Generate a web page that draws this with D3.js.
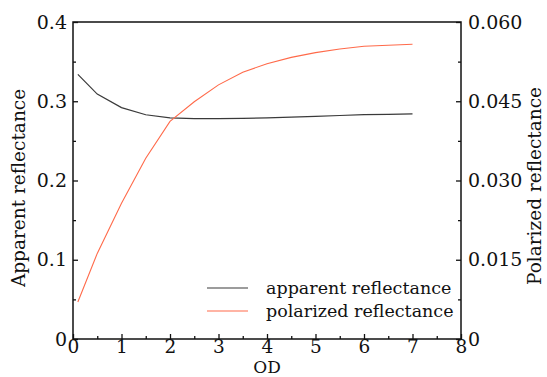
<!DOCTYPE html>
<html><head><meta charset="utf-8">
<script src="https://cdn.jsdelivr.net/npm/d3@7"></script>
<style>
html,body{margin:0;padding:0;background:#fff;}
svg{display:block;font-family:"DejaVu Serif",serif;}
</style></head>
<body><svg id="c" width="547" height="377"></svg>
<script>
const od = [0.1, 0.5, 1.0, 1.5, 2.0, 2.5, 3.0, 3.5, 4.0, 4.5, 5.0, 5.5, 6.0, 6.5, 7.0];
const apparent = [0.334, 0.309, 0.292, 0.283, 0.279, 0.278, 0.278, 0.2785, 0.279, 0.280, 0.281, 0.282, 0.283, 0.2835, 0.284];
const polarized = [0.0070, 0.0162, 0.0257, 0.0342, 0.0412, 0.0449, 0.0481, 0.0505, 0.0521, 0.0533, 0.0542, 0.0549, 0.0554, 0.0556, 0.0558];
const xTicks = [0,1,2,3,4,5,6,7,8];
const yLeftTicks = [0,0.1,0.2,0.3,0.4];
const yRightTicks = [0,0.015,0.030,0.045,0.060];
const seriesNames = ["apparent reflectance","polarized reflectance"];
const colors = ["#3a3a3a","#ff6a4a"];

const svg = d3.select("#c");
const m = {l:73, r:461, t:22, b:339};
const x = d3.scaleLinear().domain([0,8]).range([m.l,m.r]);
const yL = d3.scaleLinear().domain([0,0.4]).range([m.b,m.t]);
const yR = d3.scaleLinear().domain([0,0.06]).range([m.b,m.t]);

// frame
svg.append("rect").attr("x",m.l).attr("y",m.t).attr("width",m.r-m.l).attr("height",m.b-m.t)
  .attr("fill","none").attr("stroke","#111").attr("stroke-width",1.5);

function styleAxis(g, size){
  g.select(".domain").remove();
  g.selectAll(".tick line").attr("stroke","#111").attr("stroke-width",1.3);
  g.selectAll("text").attr("fill","#111").style("font-size",size).style("font-family","'DejaVu Serif',serif");
}
const xMinor = d3.range(0.5,8,1);
const yLMinor = [0.05,0.15,0.25,0.35];
const yRMinor = [0.0075,0.0225,0.0375,0.0525];

const gx = svg.append("g").attr("transform",`translate(0,${m.b})`)
  .call(d3.axisBottom(x).tickValues(xTicks).tickFormat(d3.format("d")).tickSizeInner(-5).tickSizeOuter(0).tickPadding(1));
styleAxis(gx, "18.5px");
svg.append("g").attr("transform",`translate(0,${m.b})`)
  .call(d3.axisBottom(x).tickValues(xMinor).tickFormat("").tickSizeInner(-3).tickSizeOuter(0))
  .call(g=>{g.select(".domain").remove();g.selectAll("line").attr("stroke","#111").attr("stroke-width",1.3);});

const gl = svg.append("g").attr("transform",`translate(${m.l},0)`)
  .call(d3.axisLeft(yL).tickValues(yLeftTicks).tickFormat(d=>d===0?"0":d3.format(".1f")(d)).tickSizeInner(-5).tickSizeOuter(0).tickPadding(6));
styleAxis(gl, "19px");
svg.append("g").attr("transform",`translate(${m.l},0)`)
  .call(d3.axisLeft(yL).tickValues(yLMinor).tickFormat("").tickSizeInner(-3).tickSizeOuter(0))
  .call(g=>{g.select(".domain").remove();g.selectAll("line").attr("stroke","#111").attr("stroke-width",1.3);});

const gr = svg.append("g").attr("transform",`translate(${m.r},0)`)
  .call(d3.axisRight(yR).tickValues(yRightTicks).tickFormat(d=>d===0?"0":d3.format(".3f")(d)).tickSizeInner(-5).tickSizeOuter(0).tickPadding(7));
styleAxis(gr, "19px");
svg.append("g").attr("transform",`translate(${m.r},0)`)
  .call(d3.axisRight(yR).tickValues(yRMinor).tickFormat("").tickSizeInner(-3).tickSizeOuter(0))
  .call(g=>{g.select(".domain").remove();g.selectAll("line").attr("stroke","#111").attr("stroke-width",1.3);});

// axis titles
svg.append("text").attr("x",267).attr("y",373).attr("text-anchor","middle")
  .style("font-size","17px").attr("fill","#111").text("OD");
svg.append("text").attr("transform","translate(25,188) rotate(-90)").attr("text-anchor","middle")
  .style("font-size","18.5px").attr("fill","#111").text("Apparent reflectance");
svg.append("text").attr("transform","translate(541,186) rotate(-90)").attr("text-anchor","middle")
  .style("font-size","18.5px").attr("fill","#111").text("Polarized reflectance");

// lines
const la = d3.line().x((d,i)=>x(od[i])).y(d=>yL(d));
const lp = d3.line().x((d,i)=>x(od[i])).y(d=>yR(d));
svg.append("path").datum(apparent).attr("d",la).attr("fill","none").attr("stroke",colors[0]).attr("stroke-width",1.2);
svg.append("path").datum(polarized).attr("d",lp).attr("fill","none").attr("stroke",colors[1]).attr("stroke-width",1.1);

// legend
const lg = svg.append("g");
seriesNames.forEach((n,i)=>{
  const yy = 288 + i*23;
  lg.append("line").attr("x1",207).attr("x2",248).attr("y1",yy).attr("y2",yy).attr("stroke",colors[i]).attr("stroke-width",1.2);
  lg.append("text").attr("x",266).attr("y",yy+6).style("font-size","17.5px").attr("fill","#111").text(n);
});
</script></body></html>
